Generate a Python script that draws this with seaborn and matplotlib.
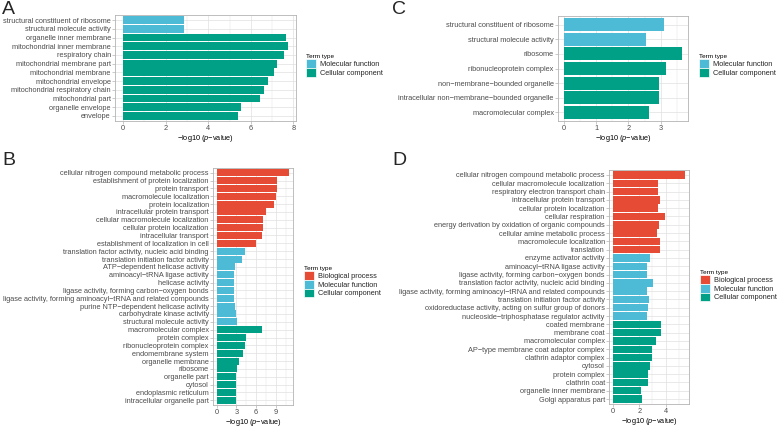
import matplotlib
matplotlib.use('Agg')
import matplotlib.pyplot as plt
import seaborn as sns
import pandas as pd
from matplotlib.patches import Patch
from matplotlib.ticker import MultipleLocator

sns.set_theme(style='white')
plt.rcParams['font.family'] = ['Liberation Sans', 'DejaVu Sans']
plt.rcParams['mathtext.fontset'] = 'custom'
plt.rcParams['mathtext.rm'] = 'Liberation Sans'
plt.rcParams['mathtext.it'] = 'Liberation Sans:italic'

M = '\u2212'

type_names = {'BP': 'Biological process', 'MF': 'Molecular function', 'CC': 'Cellular component'}
type_colors = {'Biological process': '#E64B35', 'Molecular function': '#4DBBD5',
               'Cellular component': '#00A087'}

# Panel A
a_terms = ['structural constituent of ribosome', 'structural molecule activity',
           'organelle inner membrane', 'mitochondrial inner membrane', 'respiratory chain',
           'mitochondrial membrane part', 'mitochondrial membrane', 'mitochondrial envelope',
           'mitochondrial respiratory chain', 'mitochondrial part', 'organelle envelope', 'envelope']
a_values = [2.86, 2.86, 7.68, 7.74, 7.55, 7.23, 7.07, 6.80, 6.60, 6.42, 5.52, 5.42]
a_types = ['MF', 'MF', 'CC', 'CC', 'CC', 'CC', 'CC', 'CC', 'CC', 'CC', 'CC', 'CC']

# Panel C
c_terms = ['structural constituent of ribosome', 'structural molecule activity', 'ribosome',
           'ribonucleoprotein complex', f'non{M}membrane{M}bounded organelle',
           f'intracellular non{M}membrane{M}bounded organelle', 'macromolecular complex']
c_values = [3.09, 2.54, 3.66, 3.15, 2.95, 2.95, 2.64]
c_types = ['MF', 'MF', 'CC', 'CC', 'CC', 'CC', 'CC']

# Panel B
b_terms = ['cellular nitrogen compound metabolic process', 'establishment of protein localization',
           'protein transport', 'macromolecule localization', 'protein localization',
           'intracellular protein transport', 'cellular macromolecule localization',
           'cellular protein localization', 'intracellular transport',
           'establishment of localization in cell',
           'translation factor activity, nucleic acid binding', 'translation initiation factor activity',
           f'ATP{M}dependent helicase activity', f'aminoacyl{M}tRNA ligase activity', 'helicase activity',
           f'ligase activity, forming carbon{M}oxygen bonds',
           f'ligase activity, forming aminoacyl{M}tRNA and related compounds',
           f'purine NTP{M}dependent helicase activity', 'carbohydrate kinase activity',
           'structural molecule activity',
           'macromolecular complex', 'protein complex', 'ribonucleoprotein complex',
           'endomembrane system', 'organelle membrane', 'ribosome', 'organelle part', 'cytosol',
           'endoplasmic reticulum', 'intracellular organelle part']
b_values = [11.08, 9.15, 9.20, 9.00, 8.80, 7.52, 7.12, 7.12, 6.86, 5.95,
            4.32, 3.86, 2.80, 2.70, 2.70, 2.70, 2.70, 2.75, 2.95, 3.15,
            6.96, 4.52, 4.37, 4.07, 3.36, 3.15, 2.95, 2.90, 2.95, 2.95]
b_types = ['BP', 'BP', 'BP', 'BP', 'BP', 'BP', 'BP', 'BP', 'BP', 'BP',
           'MF', 'MF', 'MF', 'MF', 'MF', 'MF', 'MF', 'MF', 'MF', 'MF',
           'CC', 'CC', 'CC', 'CC', 'CC', 'CC', 'CC', 'CC', 'CC', 'CC']

# Panel D
d_terms = ['cellular nitrogen compound metabolic process', 'cellular macromolecule localization',
           'respiratory electron transport chain', 'intracellular protein transport',
           'cellular protein localization', 'cellular respiration',
           'energy derivation by oxidation of organic compounds', 'cellular amine metabolic process',
           'macromolecule localization', 'translation',
           'enzyme activator activity', f'aminoacyl{M}tRNA ligase activity',
           f'ligase activity, forming carbon{M}oxygen bonds',
           'translation factor activity, nucleic acid binding',
           f'ligase activity, forming aminoacyl{M}tRNA and related compounds',
           'translation initiation factor activity',
           'oxidoreductase activity, acting on sulfur group of donors',
           f'nucleoside{M}triphosphatase regulator activity',
           'coated membrane', 'membrane coat', 'macromolecular complex',
           f'AP{M}type membrane coat adaptor complex', 'clathrin adaptor complex', 'cytosol',
           'protein complex', 'clathrin coat', 'organelle inner membrane', 'Golgi apparatus part']
d_values = [5.48, 3.40, 3.42, 3.57, 3.40, 3.97, 3.50, 3.35, 3.57, 3.60,
            2.82, 2.57, 2.57, 3.04, 2.57, 2.77, 2.64, 2.59,
            3.62, 3.62, 3.25, 2.99, 2.99, 2.82, 2.64, 2.67, 2.11, 2.19]
d_types = ['BP', 'BP', 'BP', 'BP', 'BP', 'BP', 'BP', 'BP', 'BP', 'BP',
           'MF', 'MF', 'MF', 'MF', 'MF', 'MF', 'MF', 'MF',
           'CC', 'CC', 'CC', 'CC', 'CC', 'CC', 'CC', 'CC', 'CC', 'CC']

W, H = 778, 428
fig = plt.figure(figsize=(W / 100, H / 100), dpi=100)
fig.patch.set_facecolor('white')

FS = 5.3
GRID = '#E0E0E0'
BORDER = '#B3B3B3'
TXT = '#4D4D4D'


def panel(box, terms, values, types, order, step, letter, letter_xy, leg_xy):
    l, t, r, b = box
    ax = fig.add_axes([l / W, 1 - b / H, (r - l) / W, (b - t) / H])
    df = pd.DataFrame({'term': terms, 'value': values, 'type': [type_names[x] for x in types]})
    hue_order = [type_names[o] for o in order]
    sns.barplot(data=df, x='value', y='term', hue='type', hue_order=hue_order,
                palette=type_colors, dodge=False, width=0.9, saturation=1,
                edgecolor='none', legend=False, ax=ax, order=terms)
    n = len(terms)
    vmax = max(values)
    ax.set_xlim(-0.05 * vmax, 1.05 * vmax)
    ax.set_ylim(n - 1 + 0.6, -0.6)
    ax.xaxis.set_major_locator(MultipleLocator(step))
    ax.xaxis.set_minor_locator(MultipleLocator(step / 2))
    ax.set_axisbelow(True)
    ax.grid(which='major', axis='both', color=GRID, lw=0.5)
    ax.grid(which='minor', axis='x', color=GRID, lw=0.3)
    for s in ax.spines.values():
        s.set_color(BORDER)
        s.set_linewidth(0.6)
    ax.tick_params(which='major', length=2, width=0.5, color=BORDER, labelsize=FS,
                   labelcolor=TXT, pad=1.0, left=True, bottom=True)
    ax.tick_params(which='minor', length=0)
    ax.set_ylabel('')
    ax.set_xlabel(M + 'log10 ($\\mathit{p}$' + M + 'value)', fontsize=FS, color='black', labelpad=0.8)
    fig.text(letter_xy[0] / W, 1 - letter_xy[1] / H, letter, fontsize=14, va='top', ha='left')
    handles = [Patch(facecolor=type_colors[h], edgecolor='white', lw=0.5, label=h) for h in hue_order]
    leg = fig.legend(handles=handles, title='Term type', loc='upper left',
                     bbox_to_anchor=(leg_xy[0] / W, 1 - leg_xy[1] / H), frameon=False,
                     fontsize=FS, title_fontsize=4.6, borderpad=0, borderaxespad=0,
                     handlelength=1.4, handleheight=1.45, labelspacing=0.0,
                     handletextpad=0.45, alignment='left')
    leg.get_title().set_color('black')
    return ax


panel((115, 15, 296, 121), a_terms, a_values, a_types, ['MF', 'CC'], 2, 'A', (2, 1), (306, 54))
panel((558, 16, 688, 121), c_terms, c_values, c_types, ['MF', 'CC'], 1, 'C', (392, 1), (699, 54))
panel((213, 168, 293, 405), b_terms, b_values, b_types, ['BP', 'MF', 'CC'], 3, 'B', (2, 152), (304, 266))
panel((609, 170, 689, 404), d_terms, d_values, d_types, ['BP', 'MF', 'CC'], 2, 'D', (392, 152), (700, 270))

fig.savefig('out.png', dpi=100, facecolor='white')
